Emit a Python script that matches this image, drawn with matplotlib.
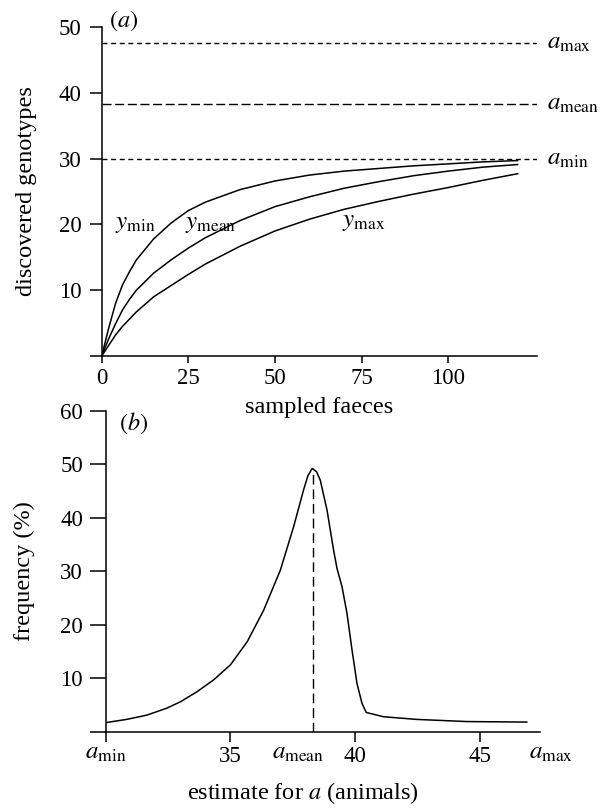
import matplotlib
matplotlib.use('Agg')
import matplotlib.pyplot as plt
import matplotlib.transforms as mtransforms

plt.rcParams['font.family'] = ['Liberation Serif', 'DejaVu Serif']
plt.rcParams['mathtext.fontset'] = 'stix'
plt.rcParams['font.size'] = 16.5
plt.rcParams['axes.linewidth'] = 1.1

#------------------------------------------------------------------------------
# (a) accumulation curves
sampled = [0, 2, 4, 6, 8, 10, 15, 20, 25, 30, 40, 50, 60, 70, 80, 90, 100, 110, 120]
y_min = [0, 4.2, 8.0, 10.8, 12.8, 14.6, 17.8, 20.2, 22.1, 23.4, 25.3, 26.6, 27.5, 28.1, 28.5, 28.9, 29.2, 29.5, 29.7]
y_mean = [0, 2.6, 4.9, 7.0, 8.6, 10.0, 12.6, 14.6, 16.4, 18.0, 20.6, 22.7, 24.2, 25.5, 26.5, 27.4, 28.1, 28.7, 29.1]
y_max = [0, 1.6, 3.2, 4.5, 5.6, 6.7, 9.0, 10.7, 12.4, 14.0, 16.7, 19.0, 20.8, 22.3, 23.5, 24.6, 25.6, 26.7, 27.7]
a_min, a_mean, a_max = 30.0, 38.3, 47.6

# (b) frequency distribution of the estimate
estimate = [30.0, 30.84, 31.65, 32.45, 33.0, 33.67, 34.33, 35.0, 35.67, 36.33, 37.0, 37.53, 37.93,
            38.1, 38.27, 38.45, 38.6, 38.87, 39.13, 39.27, 39.47, 39.67, 39.87, 40.07, 40.27,
            40.44, 41.13, 42.47, 44.47, 46.87]
frequency = [1.7, 2.3, 3.1, 4.4, 5.6, 7.5, 9.7, 12.5, 16.8, 22.7, 30.2, 38.3, 45.2,
             47.8, 49.2, 48.6, 47.0, 41.4, 34.0, 30.5, 27.1, 22.1, 15.3, 9.0, 5.3,
             3.6, 2.8, 2.3, 1.9, 1.8]

fig = plt.figure(figsize=(6, 8.08), dpi=100)
lab_size = 17.5
a_size = 18

#------------------------------------------------------------------------------
ax1 = fig.add_axes([0.1695, 0.5594, 0.7255, 0.4072])
ax1.plot(sampled, y_min, color='black', lw=1.1)
ax1.plot(sampled, y_mean, color='black', lw=1.1)
ax1.plot(sampled, y_max, color='black', lw=1.1)
ax1.axhline(a_max, color='black', lw=1.0, dashes=(3.6, 2.6))
ax1.axhline(a_mean, color='black', lw=1.0, dashes=(6.5, 2.6))
ax1.axhline(a_min, color='black', lw=1.0, dashes=(3.6, 2.6))
ax1.set_xlim(0, 125.6)
ax1.set_ylim(0, 50)
ax1.set_xticks([0, 25, 50, 75, 100])
ax1.set_yticks([0, 10, 20, 30, 40, 50])
ax1.set_yticklabels(['', '10', '20', '30', '40', '50'])
ax1.spines['top'].set_visible(False)
ax1.spines['right'].set_visible(False)
ax1.tick_params(axis='x', direction='out', length=5, width=1.1, pad=3.6)
ax1.tick_params(axis='y', direction='out', length=8.6, width=1.1, pad=6)
ax1.set_xlabel('sampled faeces', fontsize=lab_size)
ax1.xaxis.label.set_va('center')
ax1.xaxis.set_label_coords(0.5, -0.155)
ax1.set_ylabel('discovered genotypes', fontsize=lab_size)
ax1.yaxis.label.set_va('center')
ax1.yaxis.set_label_coords(-0.172, 0.5)
tr1 = mtransforms.blended_transform_factory(ax1.transAxes, ax1.transData)
ax1.text(1.023, a_max, r'$a_{\mathrm{max}}$', transform=tr1, va='center', ha='left', clip_on=False, fontsize=a_size)
ax1.text(1.023, a_mean, r'$a_{\mathrm{mean}}$', transform=tr1, va='center', ha='left', clip_on=False, fontsize=a_size)
ax1.text(1.023, a_min, r'$a_{\mathrm{min}}$', transform=tr1, va='center', ha='left', clip_on=False, fontsize=a_size)
ax1.text(3.8, 20, r'$y_{\mathrm{min}}$', va='center', ha='left', fontsize=a_size)
ax1.text(24.1, 20, r'$y_{\mathrm{mean}}$', va='center', ha='left', fontsize=a_size)
ax1.text(69.4, 20.3, r'$y_{\mathrm{max}}$', va='center', ha='left', fontsize=a_size)
ax1.text(0.016, 1.02, r'$(a)$', transform=ax1.transAxes, va='center', ha='left', clip_on=False, fontsize=lab_size)

#------------------------------------------------------------------------------
ax2 = fig.add_axes([0.176, 0.0944, 0.724, 0.3973])
ax2.patch.set_visible(False)  # so the top xlabel is not hidden
ax2.plot(estimate, frequency, color='black', lw=1.1)
ax2.plot([a_mean, a_mean], [0, max(frequency)], color='black', lw=1.0, dashes=(7, 3.5))
ax2.set_xlim(30, 47.4)
ax2.set_ylim(0, 60)
ax2.set_xticks([30, 35, 40, 45])
ax2.set_xticklabels(['', '35', '40', '45'])
ax2.set_yticks([0, 10, 20, 30, 40, 50, 60])
ax2.set_yticklabels(['', '10', '20', '30', '40', '50', '60'])
ax2.spines['top'].set_visible(False)
ax2.spines['right'].set_visible(False)
ax2.tick_params(axis='x', direction='out', length=7, width=1.1, pad=3.6)
ax2.tick_params(axis='y', direction='out', length=11.5, width=1.1, pad=4.8)
tr2 = mtransforms.blended_transform_factory(ax2.transData, ax2.transAxes)
ax2.text(30.0, -0.066, r'$a_{\mathrm{min}}$', transform=tr2, va='center', ha='center', clip_on=False, fontsize=a_size)
ax2.text(37.72, -0.066, r'$a_{\mathrm{mean}}$', transform=tr2, va='center', ha='center', clip_on=False, fontsize=a_size)
ax2.text(47.85, -0.066, r'$a_{\mathrm{max}}$', transform=tr2, va='center', ha='center', clip_on=False, fontsize=a_size)
ax2.set_xlabel(r'estimate for $a$ (animals)', fontsize=lab_size)
ax2.xaxis.label.set_va('center')
ax2.xaxis.set_label_coords(0.454, -0.19)
ax2.set_ylabel('frequency (%)', fontsize=lab_size)
ax2.yaxis.label.set_va('center')
ax2.yaxis.set_label_coords(-0.188, 0.5)
ax2.text(0.03, 0.96, r'$(b)$', transform=ax2.transAxes, va='center', ha='left', fontsize=lab_size)

fig.savefig('out.png', dpi=100)
